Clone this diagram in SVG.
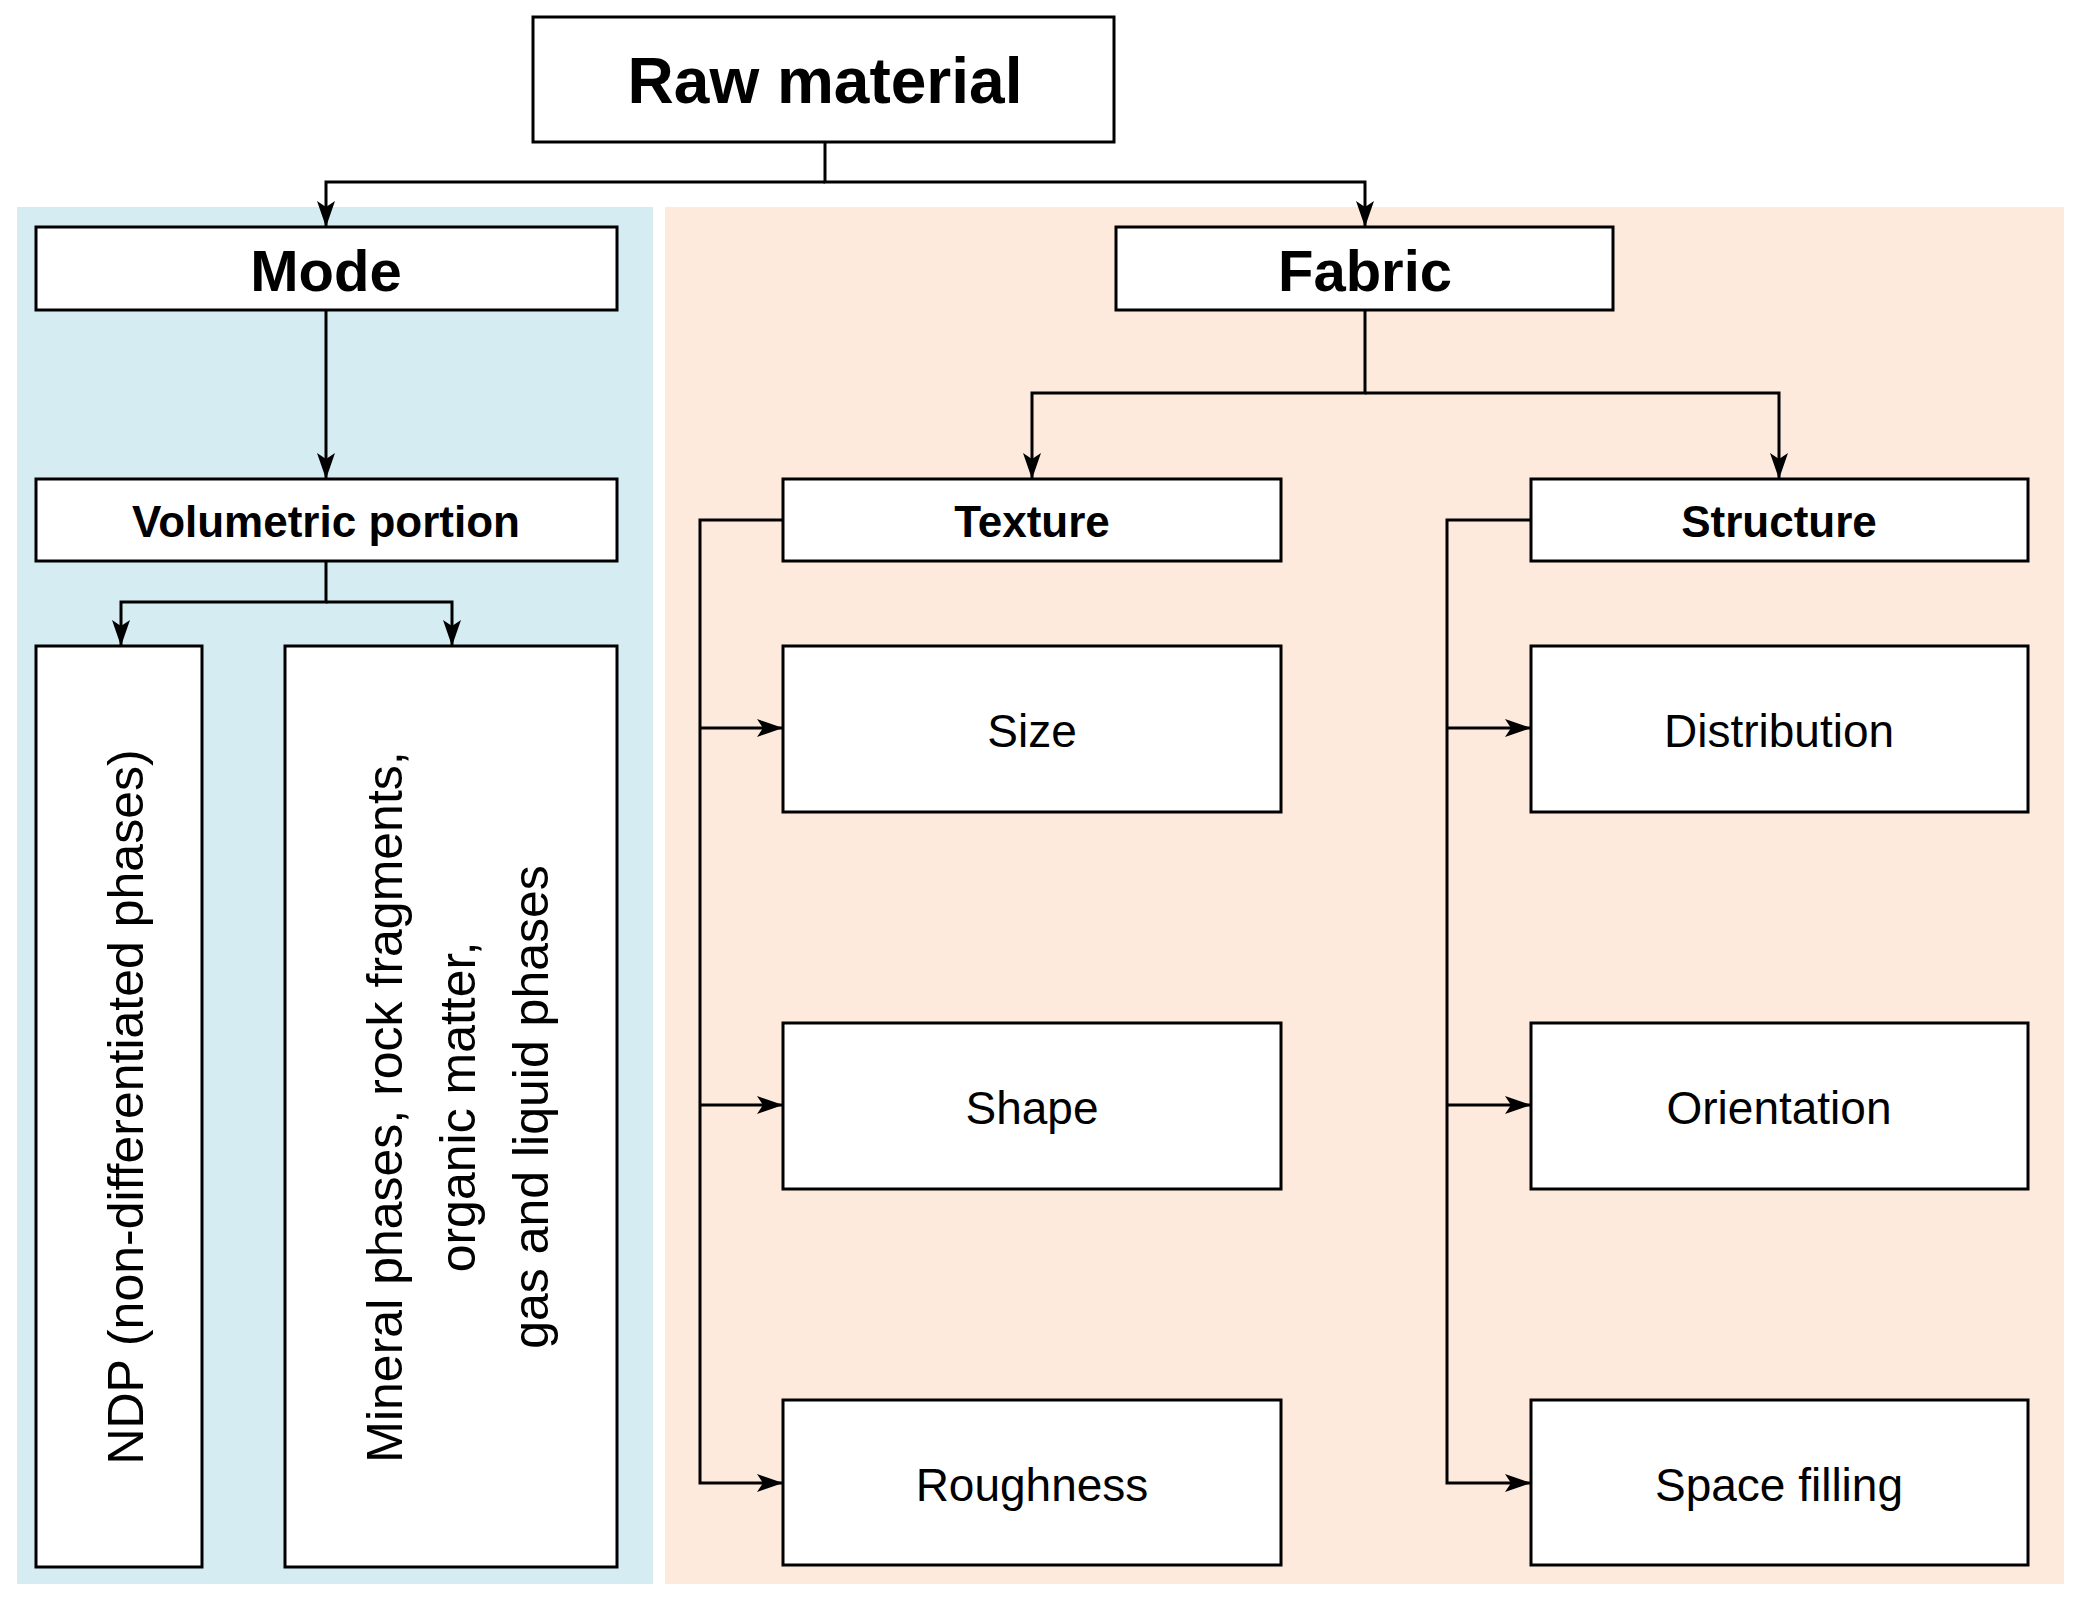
<svg xmlns="http://www.w3.org/2000/svg" width="2080" height="1604" viewBox="0 0 2080 1604">
<defs>
<marker id="a" markerWidth="26" markerHeight="18" refX="26" refY="9" orient="auto" markerUnits="userSpaceOnUse" viewBox="0 0 26 18"><path d="M0,0 L26,9 L0,18 L6,9 z" fill="#000"/></marker>
<style>
.b{fill:#fff;stroke:#000;stroke-width:3}
.t{font-family:"Liberation Sans",Arial,sans-serif;font-size:46px;text-anchor:middle;dominant-baseline:central;fill:#000}
.bd{font-weight:bold}
.c{fill:none;stroke:#000;stroke-width:3}
</style>
</defs>
<rect width="2080" height="1604" fill="#fff"/>
<rect x="17" y="207" width="636" height="1377" fill="#d5edf2"/>
<rect x="665" y="207" width="1399" height="1377" fill="#fdeadd"/>
<g id="connectors">
<path class="c" d="M825,142 V182 H1365 V227" marker-end="url(#a)"/>
<path class="c" d="M825,182 H326 V227" marker-end="url(#a)"/>
<path class="c" d="M326,310 V479" marker-end="url(#a)"/>
<path class="c" d="M326,561 V602 H121 V646" marker-end="url(#a)"/>
<path class="c" d="M326,602 H452 V646" marker-end="url(#a)"/>
<path class="c" d="M1365,310 V393 H1032 V479" marker-end="url(#a)"/>
<path class="c" d="M1365,393 H1779 V479" marker-end="url(#a)"/>
<path class="c" d="M783,520 H700 V1483 H783" marker-end="url(#a)"/>
<path class="c" d="M700,728 H783" marker-end="url(#a)"/>
<path class="c" d="M700,1105 H783" marker-end="url(#a)"/>
<path class="c" d="M1531,520 H1447 V1483 H1531" marker-end="url(#a)"/>
<path class="c" d="M1447,728 H1531" marker-end="url(#a)"/>
<path class="c" d="M1447,1105 H1531" marker-end="url(#a)"/>
</g>
<g id="raw"><rect class="b" x="533" y="17" width="581" height="125"/><text class="t bd" x="825" y="81" style="font-size:64px">Raw material</text></g>
<g id="mode"><rect class="b" x="36" y="227" width="581" height="83"/><text class="t bd" x="326" y="270" style="font-size:58px">Mode</text></g>
<g id="fabric"><rect class="b" x="1116" y="227" width="497" height="83"/><text class="t bd" x="1365" y="270" style="font-size:58px">Fabric</text></g>
<g id="vol"><rect class="b" x="36" y="479" width="581" height="82"/><text class="t bd" x="326" y="521" style="font-size:44px">Volumetric portion</text></g>
<g id="ndp"><rect class="b" x="36" y="646" width="166" height="921"/><text class="t" transform="translate(126,1107) rotate(-90)" style="font-size:50px">NDP (non-differentiated phases)</text></g>
<g id="mineral"><rect class="b" x="285" y="646" width="332" height="921"/><text class="t" transform="translate(458,1107) rotate(-90)" style="font-size:50px"><tspan x="0" y="-73">Mineral phases, rock fragments,</tspan><tspan x="0" y="0">organic matter,</tspan><tspan x="0" y="73">gas and liquid phases</tspan></text></g>
<g id="texture"><rect class="b" x="783" y="479" width="498" height="82"/><text class="t bd" x="1032" y="521" style="font-size:44px">Texture</text></g>
<g id="structure"><rect class="b" x="1531" y="479" width="497" height="82"/><text class="t bd" x="1779" y="521" style="font-size:44px">Structure</text></g>
<g id="size"><rect class="b" x="783" y="646" width="498" height="166"/><text class="t" x="1032" y="731">Size</text></g>
<g id="shape"><rect class="b" x="783" y="1023" width="498" height="166"/><text class="t" x="1032" y="1108">Shape</text></g>
<g id="rough"><rect class="b" x="783" y="1400" width="498" height="165"/><text class="t" x="1032" y="1485">Roughness</text></g>
<g id="dist"><rect class="b" x="1531" y="646" width="497" height="166"/><text class="t" x="1779" y="731">Distribution</text></g>
<g id="orient"><rect class="b" x="1531" y="1023" width="497" height="166"/><text class="t" x="1779" y="1108">Orientation</text></g>
<g id="space"><rect class="b" x="1531" y="1400" width="497" height="165"/><text class="t" x="1779" y="1485">Space filling</text></g>
</svg>
